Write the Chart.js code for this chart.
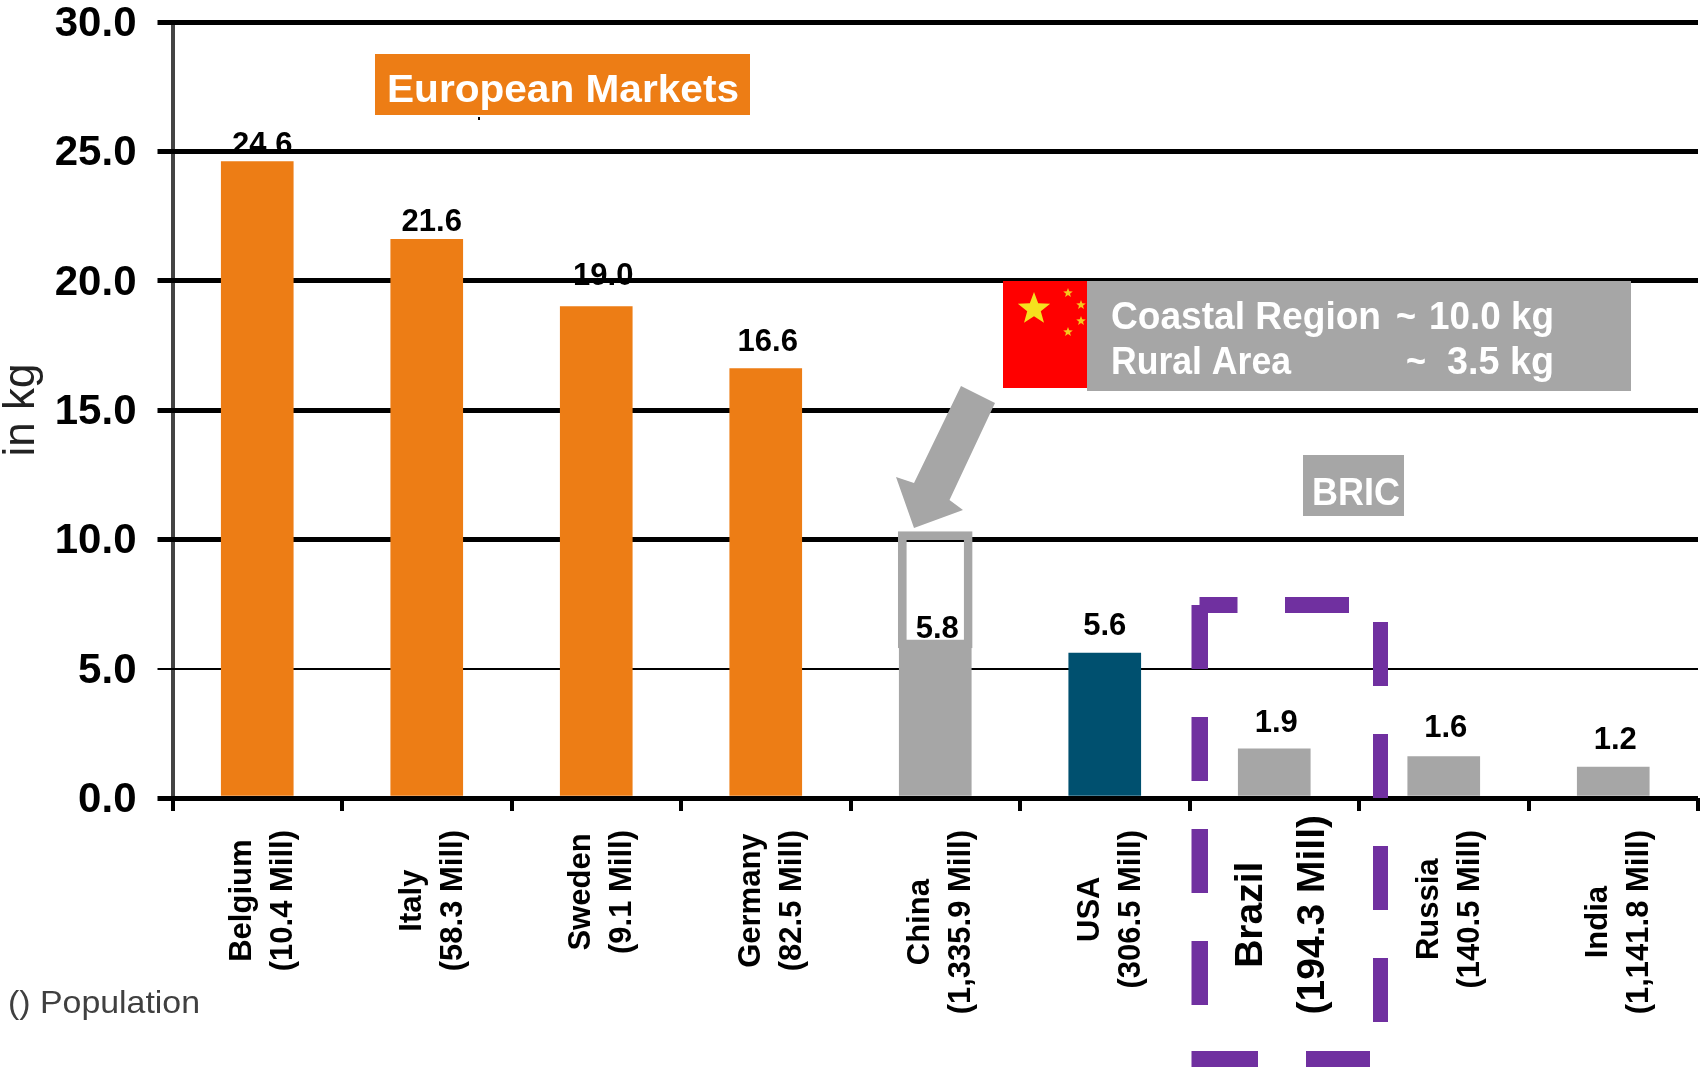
<!DOCTYPE html>
<html><head><meta charset="utf-8">
<style>html,body{margin:0;padding:0;background:#fff}canvas{display:block}</style>
<script src="https://cdn.jsdelivr.net/npm/chart.js@4"></script></head>
<body><canvas id="c" width="1700" height="1068"></canvas>
<script>
const countries = ['Belgium','Italy','Sweden','Germany','China','USA','Brazil','Russia','India'];
const populations = ['(10.4 Mill)','(58.3 Mill)','(9.1 Mill)','(82.5 Mill)','(1,335.9 Mill)','(306.5 Mill)','(194.3 Mill)','(140.5 Mill)','(1,141.8 Mill)'];
const consumption = [24.6,21.6,19.0,16.6,5.8,5.6,1.9,1.6,1.2];
const chinaCoastalRange = [null,null,null,null,[5.8,10.3],null,null,null,null];
const barColors = ['#ED7D15','#ED7D15','#ED7D15','#ED7D15','#A6A6A6','#00506F','#A6A6A6','#A6A6A6','#A6A6A6'];
const labelLift = [8,8,22,18,10,18,17,20,18];
const labelShift = [5,5,7,2,2,0,2,2,2];

const FONT = '"Liberation Sans"';
const GREY = '#A6A6A6', PURPLE = '#7030A0', ORANGE = '#ED7D15';

class CenteredCategoryScale extends Chart.CategoryScale {
  static id = 'centeredCategory';
  _computeLabelItems(area) {
    const items = super._computeLabelItems(area);
    const ctx = this.ctx;
    items.forEach((item, i) => {
      ctx.save(); ctx.font = item.font.string;
      const len = Math.max(...item.label.map(l => ctx.measureText(l).width));
      ctx.restore();
      const big = i === 6;
      const top = big ? 815 : 830;
      item.options.textAlign = 'center';
      item.options.textBaseline = 'middle';
      item.options.translation = [this.getPixelForTick(i) + (big ? 8 : 6), top + len / 2];
      item.textOffset = -(item.label.length - 1) * item.font.lineHeight / 2;
    });
    return items;
  }
}
Chart.register(CenteredCategoryScale);

function fit(ctx, text, x, base, size, width, color, weight) {
  ctx.save();
  ctx.font = (weight || 'normal') + ' ' + size + 'px ' + FONT;
  ctx.fillStyle = color; ctx.textAlign = 'left'; ctx.textBaseline = 'alphabetic';
  const w = ctx.measureText(text).width;
  ctx.translate(x, base); ctx.scale(width / w, 1);
  ctx.fillText(text, 0, 0);
  ctx.restore();
}
function star(ctx, cx, cy, r, color) {
  ctx.beginPath();
  for (let i = 0; i < 10; i++) {
    const a = -Math.PI / 2 + i * Math.PI / 5, q = i % 2 ? r * 0.42 : r;
    ctx.lineTo(cx + q * Math.cos(a), cy + q * Math.sin(a));
  }
  ctx.closePath(); ctx.fillStyle = color; ctx.fill();
}
const valueLabels = {
  id: 'valueLabels',
  beforeDraw(chart) {
    const { ctx, scales: { x, y } } = chart;
    ctx.save();
    ctx.font = 'bold 31px ' + FONT; ctx.fillStyle = '#000';
    ctx.textAlign = 'center'; ctx.textBaseline = 'alphabetic';
    consumption.forEach((v, i) => {
      ctx.fillText(v.toFixed(1), x.getPixelForTick(i) + labelShift[i], y.getPixelForValue(v) - labelLift[i]);
    });
    ctx.restore();
  }
};
const overlay = {
  id: 'overlay',
  afterDraw(chart) {
    const ctx = chart.ctx;
    ctx.save();
    ctx.fillStyle = ORANGE; ctx.fillRect(375, 54, 375, 61);
    fit(ctx, 'European Markets', 387, 102, 38, 352, '#fff', 'bold');
    ctx.fillStyle = '#000'; ctx.fillRect(478, 117, 2, 3);

    ctx.fillStyle = '#FF0000'; ctx.fillRect(1003, 281, 84, 107);
    star(ctx, 1034, 309, 17, '#F5E11E');
    [[1068,293],[1081,305],[1081,321],[1068,332]].forEach(p => star(ctx, p[0], p[1], 5, '#F5C81E'));
    ctx.fillStyle = GREY; ctx.fillRect(1087, 281, 544, 110);
    fit(ctx, 'Coastal Region', 1111, 329, 38, 270, '#fff', 'bold');
    fit(ctx, '~', 1396, 329, 38, 20, '#fff', 'bold');
    fit(ctx, '10.0 kg', 1429, 329, 38, 125, '#fff', 'bold');
    fit(ctx, 'Rural Area', 1111, 374, 38, 180, '#fff', 'bold');
    fit(ctx, '~', 1406, 374, 38, 20, '#fff', 'bold');
    fit(ctx, '3.5 kg', 1447, 374, 38, 107, '#fff', 'bold');

    ctx.fillStyle = GREY; ctx.fillRect(1303, 455, 101, 61);
    fit(ctx, 'BRIC', 1312, 505, 38, 88, '#fff', 'bold');

    ctx.fillStyle = GREY; ctx.beginPath();
    [[961,386],[995,403],[949.5,500],[963,510],[914,528],[896,477],[914,483]].forEach(p => ctx.lineTo(p[0], p[1]));
    ctx.closePath(); ctx.fill();

    ctx.fillStyle = PURPLE;
    [[605,669],[717,781],[829,893],[941,1005]].forEach(s => ctx.fillRect(1191.5, s[0], 16.5, s[1]-s[0]));
    [[622,686],[734,798],[846,910],[958,1022]].forEach(s => ctx.fillRect(1373, s[0], 15, s[1]-s[0]));
    [[1199.5,1237.5],[1285,1349]].forEach(s => ctx.fillRect(s[0], 597, s[1]-s[0], 16));
    [[1191.5,1258],[1306,1370]].forEach(s => ctx.fillRect(s[0], 1051, s[1]-s[0], 16));

    fit(ctx, '() Population', 8, 1013, 32, 192, '#404040');
    ctx.restore();
  }
};

new Chart(document.getElementById('c'), {
  type: 'bar',
  data: {
    labels: countries.map((c, i) => [c, populations[i]]),
    datasets: [
      { label: 'Fish consumption (kg)', data: consumption, backgroundColor: barColors, barThickness: 72, grouped: false, order: 2 },
      { label: 'China range', data: chinaCoastalRange, backgroundColor: 'rgba(0,0,0,0)', borderColor: GREY, borderWidth: 8, borderSkipped: false, barThickness: 74, grouped: false, order: 1 }
    ]
  },
  plugins: [valueLabels, overlay],
  options: {
    responsive: false, animation: false,
    layout: { autoPadding: false, padding: { top: 22, right: 2, left: 0, bottom: 0 } },
    plugins: { legend: { display: false }, tooltip: { enabled: false } },
    scales: {
      x: {
        type: 'centeredCategory',
        afterFit(s) { s.height = 270; s.paddingLeft = 0; s.paddingRight = 0; },
        border: { display: false },
        grid: {
          offset: true, drawTicks: true, tickLength: 13, tickColor: '#000', tickWidth: 4, color: '#444',
          lineWidth: c => (c.index === 0 || c.index === countries.length) ? 4 : 0
        },
        ticks: {
          autoSkip: false, minRotation: 90, maxRotation: 90, color: '#000',
          font: c => c.index === 6 ? { family: FONT, size: 39, weight: 'bold', lineHeight: 1.6 } : { family: FONT, size: 31, weight: 'bold', lineHeight: 1.32 }
        }
      },
      y: {
        min: 0, max: 30,
        afterFit(s) { s.width = 172.5; s.paddingTop = 0; s.paddingBottom = 0; },
        border: { display: false },
        grid: {
          color: '#000', tickColor: '#000', tickLength: 15,
          lineWidth: c => c.tick && c.tick.value === 5 ? 2 : 5
        },
        ticks: { stepSize: 5, padding: 21, labelOffset: 2.5, color: '#000', font: { family: FONT, size: 42, weight: 'bold' }, callback: v => v.toFixed(1) },
        title: { display: true, text: 'in kg', color: '#222', font: { family: FONT, size: 44, lineHeight: 1 }, padding: { top: 0, bottom: 0 } }
      }
    }
  }
});
</script></body></html>
